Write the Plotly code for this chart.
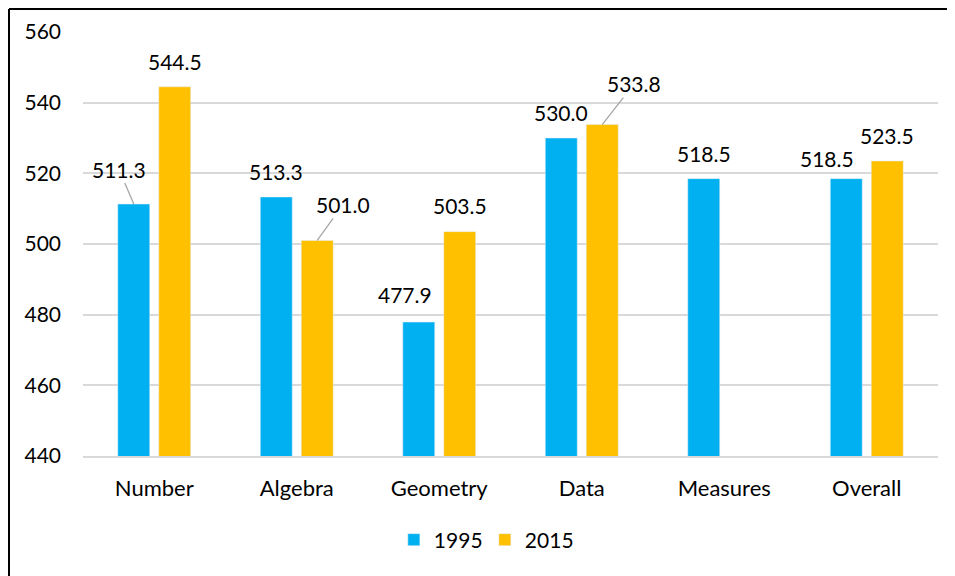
import plotly.graph_objects as go

categories = ["Number", "Algebra", "Geometry", "Data", "Measures", "Overall"]
y1995 = [511.3, 513.3, 477.9, 530.0, 518.5, 518.5]
y2015 = [544.5, 501.0, 503.5, 533.8, None, 523.5]
series_names = ["1995", "2015"]
y_ticks = [440, 460, 480, 500, 520, 540, 560]

# label pixel offsets (ax, ay) relative to bar top; leader flags
lab1995 = [(-15, -35, True), (0, -26, False), (-14, -28, False), (0, -26, False), (0, -25, False), (-19, -20, False)]
lab2015 = [(0, -25, False), (26, -36, True), (0, -26, False), (32, -41, True), None, (0, -25, False)]

BLUE = "#00B0F0"
GOLD = "#FFC000"
FONT = "Lato, Carlito, Calibri, sans-serif"

x = list(range(len(categories)))
fig = go.Figure()
fig.add_trace(go.Bar(x=x, y=y1995, name=series_names[0], marker_color=BLUE,
                     offsetgroup="a"))
fig.add_trace(go.Bar(x=x, y=y2015, name=series_names[1], marker_color=GOLD,
                     offsetgroup="b"))

bargap = 0.425
groupgap = 0.22
slot = (1 - bargap) / 2
off = slot / 2

annotations = []
for vals, labs, sign in ((y1995, lab1995, -1), (y2015, lab2015, 1)):
    for i, v in enumerate(vals):
        if v is None:
            continue
        ax, ay, lead = labs[i]
        annotations.append(dict(x=i + sign * off, y=v, xref="x", yref="y", text=f"{v:.1f}",
                                showarrow=True, arrowhead=0, arrowwidth=1.3,
                                arrowcolor="#A6A6A6" if lead else "rgba(0,0,0,0)",
                                ax=ax, ay=ay, standoff=0,
                                font=dict(size=21, color="#000000", family=FONT)))

L, R, T, B = 75, 25, 24, 128
PH = 576 - T - B
PW = 955 - L - R

fig.update_layout(
    width=955, height=576,
    margin=dict(l=L, r=R, t=T, b=B, autoexpand=False),
    paper_bgcolor="white", plot_bgcolor="white",
    barmode="group", bargap=bargap, bargroupgap=groupgap,
    font=dict(family=FONT, size=21, color="#000000"),
    showlegend=True,
    legend=dict(orientation="h", x=0.47, xanchor="center", y=-84 / PH, yanchor="middle",
                font=dict(size=21, family=FONT), entrywidth=46, entrywidthmode="pixels",
                traceorder="normal"),
    annotations=annotations,
    xaxis=dict(tickmode="array", tickvals=x, ticktext=categories, range=[-0.5, 5.5],
               showgrid=False, showline=True, linecolor="#D9D9D9", linewidth=2,
               ticks="", ticklabelstandoff=12, zeroline=False, automargin=False,
               tickfont=dict(size=22, family=FONT)),
    yaxis=dict(range=[440, 560], tickmode="array", tickvals=y_ticks,
               showgrid=True, gridcolor="#D9D9D9", gridwidth=2, zeroline=False,
               showline=False, ticks="", ticklabelstandoff=21, automargin=False,
               tickfont=dict(size=21, family=FONT)),
    shapes=[
        dict(type="line", xref="paper", yref="paper", x0=-(L - 1) / PW, x1=-(L - 1) / PW,
             y0=1 + (T - 1) / PH, y1=-B / PH, line=dict(color="#000000", width=2)),
        dict(type="line", xref="paper", yref="paper", x0=-(L - 1) / PW, x1=1 + R / PW,
             y0=1 + (T - 1) / PH, y1=1 + (T - 1) / PH, line=dict(color="#000000", width=2)),
    ],
)

fig.write_html("out.html")
